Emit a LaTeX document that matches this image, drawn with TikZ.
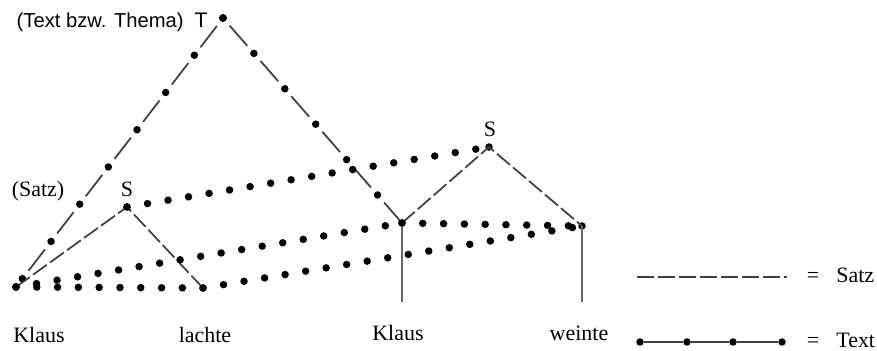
\documentclass[tikz,border=0pt]{standalone}
\usepackage{fontspec}
\setmainfont{Liberation Serif}
\newfontfamily\themafont{Liberation Sans}
\tikzstyle{knot}=[circle, fill=black, inner sep=0pt, minimum size=0.15cm]
\tikzstyle{satz}=[black!75, line width=1pt, dash pattern=on 0.34cm off 0.08cm]
\tikzstyle{textline}=[line width=0.15cm, line cap=round, dash pattern=on 0pt off 0.416cm]
\tikzstyle{themaline}=[black!75, line width=1pt, dash pattern=on 0pt off 0.2cm on 0.54cm off 0.2cm]
\tikzstyle{themadots}=[line width=0.15cm, line cap=round, dash pattern=on 0pt off 0.94cm]
\tikzstyle{stem}=[black!60, line width=1.1pt]
\tikzstyle{word}=[font=\fontsize{12.5}{15}\selectfont, anchor=base, inner sep=0pt]

\begin{document}
\begin{tikzpicture}[x=0.02cm, y=-0.02cm]
	\useasboundingbox (0,0) rectangle (877,351);
	% Knoten des Baumes
	\node[knot] (T)  at (223, 18) {};
	\node[knot] (S1) at (127,207) {};
	\node[knot] (S2) at (489,147) {};
	\node[knot] (K1) at ( 16,287) {};
	\node[knot] (L)  at (203,288) {};
	\node[knot] (K2) at (402,223) {};
	\node[knot] (W)  at (582,226) {};
	\coordinate (K2end) at (402,302);
	\coordinate (Wend)  at (582,302);

	% Text bzw. Thema
	\foreach \b in {K1, K2}{
		\draw[themaline] (T.center) -- (\b.center);
		\draw[themadots] (T.center) -- (\b.center);
	}

	% Saetze
	\draw[satz] (K1.center) -- (S1.center) -- (L.center);
	\draw[satz] (K2.center) -- (S2.center) -- (W.center);
	\draw[stem] (K2.center) -- (K2end);
	\draw[stem] (W.center) -- (Wend);

	% Textverbindungen
	\foreach \a/\b in {S1/S2, K1/K2, K1/L, L/W, K2/W}{
		\draw[textline] (\a.center) -- (\b.center);
	}

	% Beschriftung
	\node[font=\themafont\fontsize{11.5}{14}\selectfont, anchor=base east, inner sep=0pt] (thema) at (184,28) {(Text bzw. Thema)};
	\node[font=\themafont\fontsize{12}{14}\selectfont, anchor=base, inner sep=0pt] (Tlabel) at (201,28) {T};
	\node[word] (satzlabel) at (38,197) {(Satz)};
	\node[word] (S1label) at (127,197) {S};
	\node[word] (S2label) at (490,137) {S};

	\node[word] (w1) at ( 39,343) {Klaus};
	\node[word] (w2) at (205,343) {lachte};
	\node[word] (w3) at (398,341) {Klaus};
	\node[word] (w4) at (579,341) {weinte};

	% Legende
	\coordinate (satzA) at (637,277);
	\coordinate (satzB) at (787,277);
	\draw[satz] (satzA) -- (satzB);
	\node[word] (eq1) at (813,283) {=};
	\node[word, anchor=base west] (satzleg) at (836,283) {Satz};

	\foreach \x [count=\i] in {640, 687, 733, 782}{ \node[knot] (leg\i) at (\x,342) {}; }
	\draw[black!75, line width=1pt] (leg1) -- (leg2) (leg2) -- (leg3) (leg3) -- (leg4);
	\node[word] (eq2) at (813,348) {=};
	\node[word, anchor=base west] (textleg) at (836,348) {Text};
\end{tikzpicture}
\end{document}
